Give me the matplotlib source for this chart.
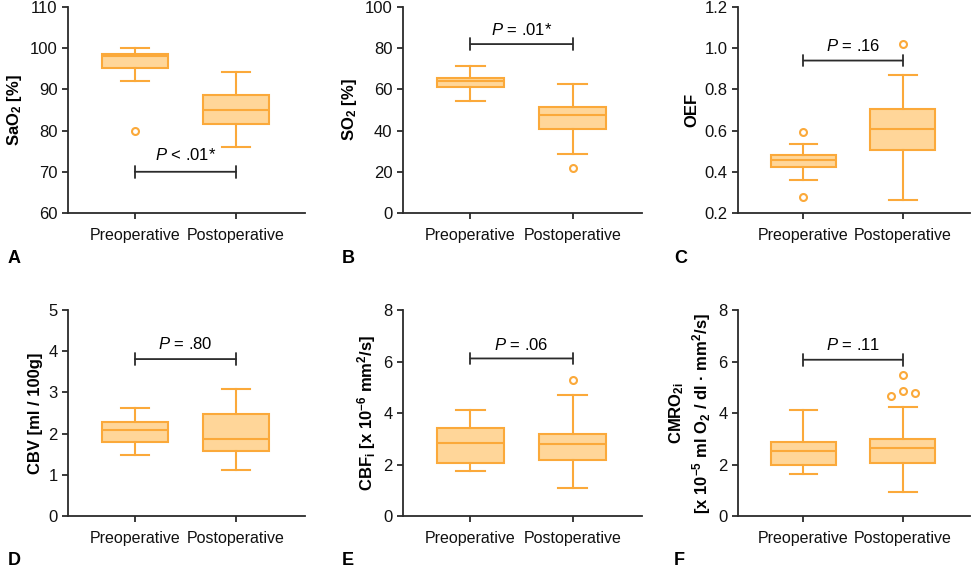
import matplotlib
matplotlib.use("Agg")
import matplotlib.pyplot as plt

plt.rcParams['font.family'] = ['Liberation Sans', 'DejaVu Sans']
plt.rcParams['font.size'] = 12
plt.rcParams['mathtext.fontset'] = 'custom'
plt.rcParams['mathtext.rm'] = 'Liberation Sans'
plt.rcParams['mathtext.it'] = 'Liberation Sans:italic'
plt.rcParams['mathtext.bf'] = 'Liberation Sans:bold'

groups = ['Preoperative', 'Postoperative']

# box stats per panel: [whislo, q1, med, q3, whishi]
sao2_pre = [92.0, 95.1, 98.1, 98.5, 100.0]
sao2_post = [75.9, 81.6, 85.0, 88.6, 94.2]
sao2_fliers = [[80.0], []]

so2_pre = [54.5, 61.1, 64.0, 65.6, 71.5]
so2_post = [28.4, 40.6, 47.4, 51.6, 62.6]
so2_fliers = [[], [21.8]]

oef_pre = [0.360, 0.421, 0.455, 0.482, 0.535]
oef_post = [0.263, 0.505, 0.610, 0.705, 0.869]
oef_fliers = [[0.594, 0.279], [1.019]]

cbv_pre = [1.48, 1.79, 2.10, 2.285, 2.62]
cbv_post = [1.12, 1.58, 1.86, 2.47, 3.08]
cbv_fliers = [[], []]

cbf_pre = [1.74, 2.05, 2.83, 3.42, 4.11]
cbf_post = [1.09, 2.16, 2.79, 3.19, 4.71]
cbf_fliers = [[], [5.28]]

cmro_pre = [1.63, 2.00, 2.53, 2.88, 4.10]
cmro_post = [0.93, 2.07, 2.63, 3.01, 4.24]
cmro_fliers = [[], [4.65, 4.86, 4.76, 5.47]]
cmro_flier_dx = [-0.12, 0.0, 0.12, 0.0]  # horizontal spread of the outliers

p_texts = ['$P$ < .01*', '$P$ = .01*', '$P$ = .16', '$P$ = .80', '$P$ = .06', '$P$ = .11']
bracket_y = [70, 82, 0.94, 3.81, 6.12, 6.07]
text_y = [74.1, 88.7, 1.013, 4.17, 6.66, 6.64]

ylabels = [r'SaO$_\mathbf{2}$ [%]',
           r'SO$_\mathbf{2}$ [%]',
           'OEF',
           'CBV [ml / 100g]',
           r'CBF$_\mathbf{i}$ [x 10$^\mathbf{-6}$ mm$^\mathbf{2}$/s]',
           'CMRO$_\\mathbf{2i}$\n[x 10$^\\mathbf{-5}$ ml O$_\\mathbf{2}$ / dl · mm$^\\mathbf{2}$/s]']
ylims = [(60, 110), (0, 100), (0.2, 1.2), (0, 5), (0, 8), (0, 8)]
yticks = [[60, 70, 80, 90, 100, 110], [0, 20, 40, 60, 80, 100],
          [0.2, 0.4, 0.6, 0.8, 1.0, 1.2], [0, 1, 2, 3, 4, 5],
          [0, 2, 4, 6, 8], [0, 2, 4, 6, 8]]
ytickfmt = ['{:.0f}', '{:.0f}', '{:.1f}', '{:.0f}', '{:.0f}', '{:.0f}']
letters = ['A', 'B', 'C', 'D', 'E', 'F']

boxes = [(sao2_pre, sao2_post, sao2_fliers), (so2_pre, so2_post, so2_fliers),
         (oef_pre, oef_post, oef_fliers), (cbv_pre, cbv_post, cbv_fliers),
         (cbf_pre, cbf_post, cbf_fliers), (cmro_pre, cmro_post, cmro_fliers)]

edge = '#FBA93A'
fill = '#FFD699'
dark = '#2b2b2b'

fig = plt.figure(figsize=(9.77, 5.69), dpi=100)
lefts = [0.0696, 0.4125, 0.7554]
widths = [0.2426, 0.2446, 0.2375]
bottoms = [0.6257, 0.0931]
height = 0.362

for i in range(6):
    r, c = divmod(i, 3)
    ax = fig.add_axes([lefts[c], bottoms[r], widths[c], height])
    pre, post, fl = boxes[i]
    stats = []
    for j, s in enumerate([pre, post]):
        stats.append(dict(whislo=s[0], q1=s[1], med=s[2], q3=s[3], whishi=s[4],
                          fliers=[] if (i == 5 and j == 1) else fl[j], label=groups[j]))
    ax.bxp(stats, positions=[1, 2], widths=0.65, patch_artist=True,
           boxprops=dict(facecolor=fill, edgecolor=edge, linewidth=1.5),
           medianprops=dict(color=edge, linewidth=1.5),
           whiskerprops=dict(color=edge, linewidth=1.5),
           capprops=dict(color=edge, linewidth=1.5),
           capwidths=0.28,
           flierprops=dict(marker='o', markerfacecolor='white', markeredgecolor=edge,
                           markersize=5, markeredgewidth=1.5))
    if i == 5:
        ax.scatter([2 + dx for dx in cmro_flier_dx], fl[1], s=25, facecolor='white',
                   edgecolor=edge, linewidth=1.5, zorder=3)

    # significance bracket
    ax.annotate('', xy=(1, bracket_y[i]), xytext=(2, bracket_y[i]),
                arrowprops=dict(arrowstyle='|-|, widthA=0.35, widthB=0.35', color=dark,
                                lw=1.3, shrinkA=0, shrinkB=0))
    ax.text(1.5, text_y[i], p_texts[i], ha='center', va='center', fontsize=12)

    ax.set_xlim(0.34, 2.68)
    ax.set_ylim(*ylims[i])
    ax.set_yticks(yticks[i])
    ax.set_yticklabels([ytickfmt[i].format(v) for v in yticks[i]])
    ax.set_xticks([1, 2])
    ax.set_xticklabels(groups)
    ax.set_ylabel(ylabels[i], fontweight='bold', fontsize=12, labelpad=4)
    for side in ['top', 'right']:
        ax.spines[side].set_visible(False)
    for side in ['left', 'bottom']:
        ax.spines[side].set_color(dark)
        ax.spines[side].set_linewidth(1.3)
    ax.tick_params(colors=dark, width=1.3, length=4, labelsize=12, labelcolor='#111111')
    ax.tick_params(axis='x', pad=7, labelsize=11.5)

    fx = [0.008, 0.350, 0.690][c]
    fy = [0.530, 0.0][r]
    fig.text(fx, fy, letters[i], fontsize=13, fontweight='bold', va='bottom', ha='left')

fig.savefig('out.png', dpi=100)
